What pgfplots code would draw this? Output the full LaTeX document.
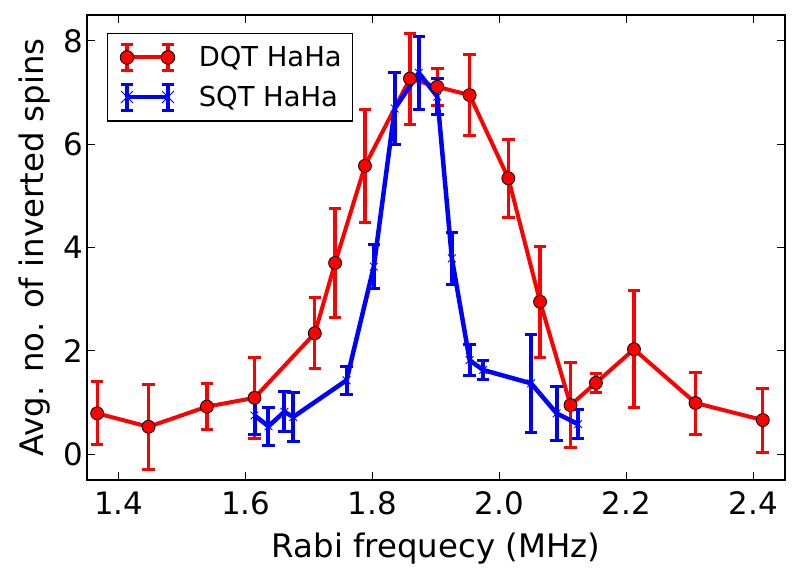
\documentclass[border=0pt]{standalone}
\usepackage{fontspec}
\setmainfont{DejaVu Sans}
\usepackage{pgfplots}
\usepackage{pgfplotstable}
\pgfplotsset{compat=1.18}

% frequency (MHz), mean inverted spins, error
\pgfplotstableread{
x y e
1.366 0.79 0.61
1.447 0.53 0.82
1.539 0.92 0.45
1.614 1.09 0.78
1.709 2.34 0.69
1.741 3.70 1.06
1.788 5.58 1.10
1.859 7.27 0.88
1.902 7.11 0.36
1.953 6.95 0.78
2.014 5.34 0.75
2.064 2.95 1.07
2.112 0.95 0.82
2.152 1.38 0.19
2.212 2.03 1.13
2.309 0.99 0.60
2.415 0.66 0.62
}\dqt

\pgfplotstableread{
x y e
1.614 0.75 0.37
1.636 0.54 0.37
1.661 0.82 0.39
1.675 0.72 0.48
1.759 1.43 0.27
1.802 3.63 0.42
1.835 6.69 0.69
1.873 7.38 0.71
1.902 6.92 0.35
1.925 3.79 0.50
1.953 1.82 0.30
1.974 1.63 0.18
2.050 1.37 0.95
2.090 0.79 0.52
2.124 0.58 0.28
}\sqt

\begin{document}
\begin{tikzpicture}
\begin{axis}[
  scale only axis,
  width=698bp, height=465bp,
  xmin=1.35, xmax=2.45, ymin=-0.5, ymax=8.5,
  xtick={1.4,1.6,1.8,2.0,2.2,2.4}, ytick={0,2,4,6,8},
  /pgf/number format/assume math mode=true,
  tick align=inside, major tick length=8bp,
  tick style={black, line width=1bp},
  axis line style={line width=1.5bp},
  tick label style={font=\fontsize{31}{36}\selectfont},
  xticklabel style={/pgf/number format/fixed, /pgf/number format/fixed zerofill,
    /pgf/number format/precision=1, anchor=base, yshift=-34bp},
  label style={font=\fontsize{32.5}{38}\selectfont},
  xlabel={Rabi frequecy (MHz)},
  ylabel={Avg. no. of inverted spins},
  xlabel style={at={(axis description cs:0.5,-0.1656)}, anchor=base},
  ylabel style={at={(axis description cs:-0.063,0.5)}, anchor=base},
  legend style={draw=black, line width=1.5bp, at={(0,1)}, anchor=north west,
    xshift=20bp, yshift=-18bp, font=\fontsize{27.5}{32}\selectfont,
    inner xsep=2bp, inner ysep=9bp, row sep=10bp,
    nodes={inner ysep=2bp, inner xsep=9bp},
    /tikz/every odd column/.append style={column sep=14bp}},
  legend cell align=left,
]
\addplot[red, line width=4bp, mark=*, mark size=6.5bp,
  mark options={fill=red, draw=black, line width=0.8bp},
  legend image code/.code={
    \path (-15bp,0bp);
    \draw[red, line width=4bp] (0bp,0bp) -- (41bp,0bp);
    \draw[red, line width=3.3bp] (0bp,-13bp) -- (0bp,13bp);
    \draw[red, line width=3bp] (-6.3bp,13bp) -- (6.3bp,13bp);
    \draw[red, line width=3bp] (-6.3bp,-13bp) -- (6.3bp,-13bp);
    \draw[red, line width=3.3bp] (41bp,-13bp) -- (41bp,13bp);
    \draw[red, line width=3bp] (34.7bp,13bp) -- (47.3bp,13bp);
    \draw[red, line width=3bp] (34.7bp,-13bp) -- (47.3bp,-13bp);
    \filldraw[fill=red, draw=black, line width=0.8bp] (0bp,0bp) circle (6.8bp);
    \filldraw[fill=red, draw=black, line width=0.8bp] (41bp,0bp) circle (6.8bp);
  },
  error bars/.cd, y dir=both, y explicit,
  error mark=|,
  error bar style={red, line width=3.3bp},
  error mark options={red, line width=3bp, mark size=6.3bp}]
  table[x=x, y=y, y error=e] {\dqt};
\addlegendentry{DQT HaHa}
\addplot[blue, line width=4.5bp, mark=x, mark size=5.5bp,
  mark options={blue, line width=0.9bp},
  legend image code/.code={
    \path (-15bp,0bp);
    \draw[blue, line width=4.5bp] (0bp,0bp) -- (41bp,0bp);
    \draw[blue, line width=4bp] (0bp,-13bp) -- (0bp,13bp);
    \draw[blue, line width=3bp] (-6.3bp,13bp) -- (6.3bp,13bp);
    \draw[blue, line width=3bp] (-6.3bp,-13bp) -- (6.3bp,-13bp);
    \draw[blue, line width=4bp] (41bp,-13bp) -- (41bp,13bp);
    \draw[blue, line width=3bp] (34.7bp,13bp) -- (47.3bp,13bp);
    \draw[blue, line width=3bp] (34.7bp,-13bp) -- (47.3bp,-13bp);
    \draw[blue, line width=0.9bp] (-6bp,-6bp) -- (6bp,6bp) (-6bp,6bp) -- (6bp,-6bp);
    \draw[blue, line width=0.9bp] (35bp,-6bp) -- (47bp,6bp) (35bp,6bp) -- (47bp,-6bp);
  },
  error bars/.cd, y dir=both, y explicit,
  error mark=|,
  error bar style={blue, line width=4bp},
  error mark options={blue, line width=3bp, mark size=6.3bp}]
  table[x=x, y=y, y error=e] {\sqt};
\addlegendentry{SQT HaHa}
\end{axis}
\pgfresetboundingbox
\path[use as bounding box] ([xshift=-87bp,yshift=-99bp]current axis.south west)
  rectangle ([xshift=15bp,yshift=15bp]current axis.north east);
\end{tikzpicture}
\end{document}
